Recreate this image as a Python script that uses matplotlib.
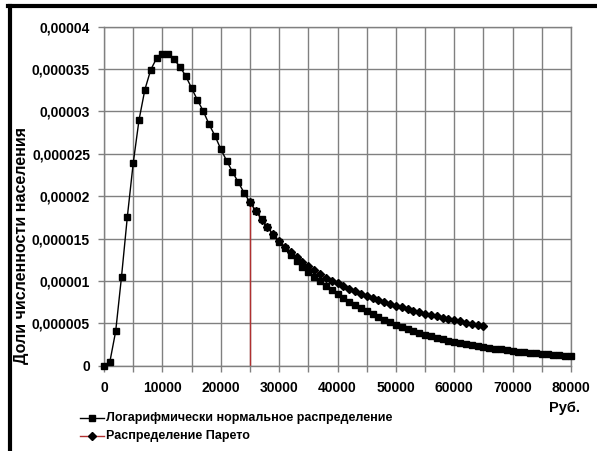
import matplotlib
matplotlib.use("Agg")
import matplotlib.pyplot as plt
from matplotlib.lines import Line2D

plt.rcParams['font.family'] = ['Liberation Sans', 'DejaVu Sans']
plt.rcParams['font.weight'] = 'bold'

# ---- data ----
income_logn = list(range(0, 81000, 1000))
share_logn = [
    0.0, 4.4e-7, 4.06e-6, 1.05e-5, 1.758e-5, 2.388e-5, 2.90e-5, 3.257e-5, 3.49e-5, 3.627e-5,
    3.68e-5, 3.674e-5, 3.615e-5, 3.528e-5, 3.418e-5, 3.277e-5, 3.135e-5, 3.005e-5, 2.848e-5, 2.714e-5,
    2.557e-5, 2.419e-5, 2.289e-5, 2.164e-5, 2.041e-5, 1.928e-5, 1.83e-5, 1.73e-5, 1.635e-5, 1.545e-5,
    1.465e-5, 1.385e-5, 1.31e-5, 1.24e-5, 1.17e-5, 1.11e-5, 1.05e-5, 9.95e-6, 9.40e-6, 8.90e-6,
    8.45e-6, 8.00e-6, 7.55e-6, 7.15e-6, 6.75e-6, 6.40e-6, 6.05e-6, 5.72e-6, 5.40e-6, 5.10e-6,
    4.78e-6, 4.52e-6, 4.28e-6, 4.05e-6, 3.83e-6, 3.63e-6, 3.45e-6, 3.28e-6, 3.12e-6, 2.96e-6,
    2.81e-6, 2.68e-6, 2.55e-6, 2.43e-6, 2.32e-6, 2.21e-6, 2.11e-6, 2.01e-6, 1.92e-6, 1.83e-6,
    1.75e-6, 1.67e-6, 1.60e-6, 1.53e-6, 1.46e-6, 1.40e-6, 1.34e-6, 1.28e-6, 1.23e-6, 1.17e-6,
    1.12e-6,
]
income_pareto = list(range(25000, 66000, 1000))
share_pareto = [
    1.930e-5, 1.821e-5, 1.722e-5, 1.632e-5, 1.550e-5, 1.474e-5, 1.404e-5, 1.340e-5, 1.281e-5, 1.225e-5,
    1.174e-5, 1.126e-5, 1.081e-5, 1.039e-5, 1.000e-5, 9.70e-6, 9.37e-6, 9.05e-6, 8.76e-6, 8.48e-6,
    8.22e-6, 7.97e-6, 7.73e-6, 7.50e-6, 7.29e-6, 7.08e-6, 6.88e-6, 6.68e-6, 6.49e-6, 6.31e-6,
    6.14e-6, 5.97e-6, 5.81e-6, 5.65e-6, 5.50e-6, 5.36e-6, 5.22e-6, 5.08e-6, 4.95e-6, 4.82e-6,
    4.70e-6,
]
threshold_x = 25000

x_ticks = list(range(0, 81000, 10000))
x_minor = list(range(0, 81000, 5000))
y_ticks = [0, 0.000005, 0.00001, 0.000015, 0.00002, 0.000025, 0.00003, 0.000035, 0.00004]
y_labels = ["0", "0,000005", "0,00001", "0,000015", "0,00002", "0,000025", "0,00003", "0,000035", "0,00004"]

label_logn = "Логарифмически нормальное распределение"
label_pareto = "Распределение Парето"
y_title = "Доли численности населения"
x_title = "Руб."

W, H = 597, 451
fig = plt.figure(figsize=(W / 100, H / 100), dpi=100)
ax = fig.add_axes([104 / W, (H - 365.7) / H, 467 / W, 339 / H])

grid_col = '#808080'
red = '#b03030'

ax.set_xlim(0, 80000)
ax.set_ylim(0, 0.00004)
ax.set_xticks(x_minor)
ax.set_xticklabels([str(v) if v % 10000 == 0 else "" for v in x_minor])
ax.set_yticks(y_ticks)
ax.set_yticklabels(y_labels)
ax.grid(True, color=grid_col, lw=1)
ax.set_axisbelow(True)
for s in ax.spines.values():
    s.set_color(grid_col)
    s.set_linewidth(1)
ax.tick_params(direction='out', length=4, width=1, color=grid_col, labelsize=10, pad=6)
ax.tick_params(axis='x', pad=7)
for t in ax.get_xticklabels() + ax.get_yticklabels():
    t.set_fontweight('bold')

# threshold line
ax.plot([threshold_x, threshold_x], [0, share_pareto[0]], color=red, lw=1, zorder=2)

ax.plot(income_pareto, share_pareto, color=red, lw=0.8, marker='D', markersize=4.0,
        markerfacecolor='black', markeredgecolor='black', zorder=3, clip_on=False)
ax.plot(income_logn, share_logn, color='black', lw=1, marker='s', markersize=4.9,
        markerfacecolor='black', markeredgecolor='black', zorder=4, clip_on=False)

# axis titles
fig.text(22 / W, 1 - 246 / H, y_title, rotation=90, ha='center', va='center',
         fontsize=11.5, fontweight='bold')
fig.text(565 / W, 1 - 408 / H, x_title, ha='center', va='center', fontsize=10.5, fontweight='bold')

# legend (manual)
rows = [(418, 'black', 's', 4.9, label_logn), (436, red, 'D', 4.0, label_pareto)]
for yy, col, mk, ms, lab in rows:
    yf = 1 - yy / H
    fig.add_artist(Line2D([80 / W, 104 / W], [yf, yf], color=col, lw=1))
    fig.add_artist(Line2D([92 / W], [yf], marker=mk, markersize=ms, color='black', lw=0))
    fig.text(106 / W, yf, lab, ha='left', va='center', fontsize=9, fontweight='bold')

# frame border (top and left)
fig.add_artist(Line2D([8 / W, 1], [1 - 6 / H, 1 - 6 / H], color='black', lw=3))
fig.add_artist(Line2D([9.5 / W, 9.5 / W], [0, 1 - 6 / H], color='black', lw=3))

fig.savefig("out.png", dpi=100)
